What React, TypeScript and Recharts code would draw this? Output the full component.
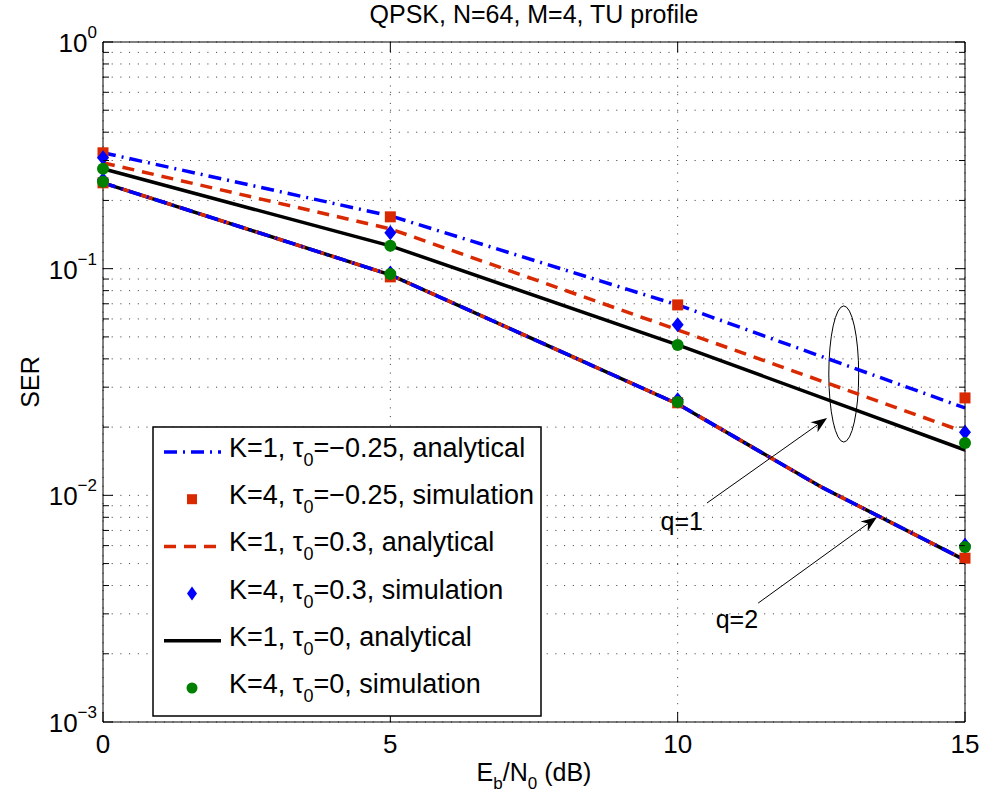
import React from "react";
import {
  CartesianGrid,
  ComposedChart,
  Line,
  ReferenceArea,
  ReferenceLine,
  Scatter,
  XAxis,
  YAxis,
} from "recharts";

// Eb/N0 grid (dB)
const snrDb = [0, 5, 10, 15];
const snrDbFine = [0, 5, 10, 12.5, 15];

// q = 1 curves
const anaTauNeg025 = [0.3245, 0.171, 0.0692, 0.0243];
const simTauNeg025 = [0.3245, 0.1693, 0.0692, 0.0269];
const anaTau03 = [0.2933, 0.1499, 0.0537, 0.019];
const simTau03 = [0.3084, 0.1439, 0.0565, 0.019];
const anaTau0 = [0.2758, 0.1261, 0.0461, 0.01585];
const simTau0 = [0.2758, 0.1261, 0.0461, 0.017];

// q = 2 curves (the three analytical curves coincide)
const anaQ2 = [0.2392, 0.0939, 0.0253, 0.01088, 0.00518];
const simTauNeg025Q2 = [0.2392, 0.092, 0.0256, 0.00528];
const simTau03Q2 = [0.2466, 0.0958, 0.0264, 0.00603];
const simTau0Q2 = [0.2416, 0.0948, 0.0258, 0.00591];

const xTicks = [0, 5, 10, 15];
const yTicks = [
  0.001, 0.002, 0.003, 0.004, 0.005, 0.006, 0.007, 0.008, 0.009,
  0.01, 0.02, 0.03, 0.04, 0.05, 0.06, 0.07, 0.08, 0.09,
  0.1, 0.2, 0.3, 0.4, 0.5, 0.6, 0.7, 0.8, 0.9, 1,
];

const legendK = ["1", "4", "1", "4", "1", "4"];
const legendTau = ["\u22120.25", "\u22120.25", "0.3", "0.3", "0", "0"];
const legendKind = ["analytical", "simulation", "analytical", "simulation", "analytical", "simulation"];

const FONT = "'Liberation Sans', Arial, Helvetica, sans-serif";
const BLUE = "#0000ff";
const RED = "#d92900";
const GREEN = "#008000";

const pts = (xs: number[], ys: number[]) => xs.map((x, i) => ({ x, y: ys[i] }));

const isDecade = (v: number) => {
  const e = Math.round(Math.log10(v));
  return Math.abs(v - Math.pow(10, e)) < 1e-9;
};

function LeftTick(props: any) {
  const { x, y, payload } = props;
  const v = payload.value;
  const major = isDecade(v);
  const e = Math.round(Math.log10(v));
  return (
    <g>
      <line x1={x} y1={y} x2={x + (major ? 10 : 6)} y2={y} stroke="#000" />
      {major && (
        <text x={x - 6} y={y + 10} textAnchor="end" fontSize={26} fontFamily={FONT} fill="#000">
          10
          <tspan dy={-14} fontSize={17}>
            {e === 0 ? "0" : "\u2212" + Math.abs(e)}
          </tspan>
        </text>
      )}
    </g>
  );
}

function RightTick(props: any) {
  const { x, y, payload } = props;
  const major = isDecade(payload.value);
  return <line x1={x} y1={y} x2={x - (major ? 10 : 6)} y2={y} stroke="#000" />;
}

function BottomTick(props: any) {
  const { x, y, payload } = props;
  return (
    <g>
      <line x1={x} y1={y} x2={x} y2={y - 10} stroke="#000" />
      <text x={x} y={y + 31} textAnchor="middle" fontSize={26} fontFamily={FONT} fill="#000">
        {payload.value}
      </text>
    </g>
  );
}

function TopTick(props: any) {
  const { x, y } = props;
  return <line x1={x} y1={y} x2={x} y2={y + 10} stroke="#000" />;
}

const squareShape = (size: number) => (p: any) => (
  <rect x={p.cx - size / 2} y={p.cy - size / 2} width={size} height={size} fill={RED} />
);
const diamondShape = (w: number, h: number) => (p: any) => (
  <polygon
    points={`${p.cx},${p.cy - h / 2} ${p.cx + w / 2},${p.cy} ${p.cx},${p.cy + h / 2} ${p.cx - w / 2},${p.cy}`}
    fill={BLUE}
  />
);
const circleShape = (r: number) => (p: any) => <circle cx={p.cx} cy={p.cy} r={r} fill={GREEN} />;

const arrowShape = (label: string, tx: number, ty: number) => (p: any) => {
  const { x1, y1, x2, y2 } = p;
  const ang = Math.atan2(y2 - y1, x2 - x1);
  const len = 16;
  const half = 6;
  const bx = x2 - len * Math.cos(ang);
  const by = y2 - len * Math.sin(ang);
  const nx = x2 - len * 0.7 * Math.cos(ang);
  const ny = y2 - len * 0.7 * Math.sin(ang);
  const px = -Math.sin(ang) * half;
  const py = Math.cos(ang) * half;
  return (
    <g>
      <line x1={x1} y1={y1} x2={nx} y2={ny} stroke="#000" strokeWidth={1} />
      <polygon points={`${x2},${y2} ${bx + px},${by + py} ${nx},${ny} ${bx - px},${by - py}`} fill="#000" />
      <text x={x1 + tx} y={y1 + ty} textAnchor="end" fontSize={25} fontFamily={FONT} fill="#000">
        {label}
      </text>
    </g>
  );
};

const ellipseShape = (p: any) => (
  <ellipse
    cx={p.x + p.width / 2}
    cy={p.y + p.height / 2}
    rx={p.width / 2}
    ry={p.height / 2}
    fill="none"
    stroke="#000"
    strokeWidth={1}
  />
);

function LegendSample({ i }: { i: number }) {
  const cy = 26 + 47.2 * i;
  const cx = 40;
  if (i === 0)
    return <line x1={12} y1={cy} x2={69} y2={cy} stroke={BLUE} strokeWidth={3.5} strokeDasharray="13 6 2 6" />;
  if (i === 1) return <rect x={cx - 5} y={cy - 5} width={10} height={10} fill={RED} />;
  if (i === 2)
    return <line x1={12} y1={cy} x2={69} y2={cy} stroke={RED} strokeWidth={3.5} strokeDasharray="12 8" />;
  if (i === 3)
    return <polygon points={`${cx},${cy - 7} ${cx + 5},${cy} ${cx},${cy + 7} ${cx - 5},${cy}`} fill={BLUE} />;
  if (i === 4) return <line x1={12} y1={cy} x2={69} y2={cy} stroke="#000" strokeWidth={3.5} />;
  return <circle cx={cx} cy={cy} r={5.5} fill={GREEN} />;
}

function ChartLegend() {
  return (
    <svg width={390} height={291} style={{ position: "absolute", left: 152, top: 426 }}>
      <rect x={1} y={1} width={388} height={289} fill="#fff" stroke="#000" strokeWidth={1.5} />
      {legendK.map((k, i) => (
        <g key={i}>
          <LegendSample i={i} />
          <text x={77} y={31 + 47.2 * i} fontSize={27} fontFamily={FONT} fill="#000">
            {`K=${k}, \u03c4`}
            <tspan dy={9} fontSize={18}>0</tspan>
            <tspan dy={-9}>{`=${legendTau[i]}, ${legendKind[i]}`}</tspan>
          </text>
        </g>
      ))}
    </svg>
  );
}

function Labels() {
  return (
    <svg width={984} height={801} style={{ position: "absolute", left: 0, top: 0, pointerEvents: "none" }}>
      <text x={534} y={23} textAnchor="middle" fontSize={25} fontFamily={FONT} fill="#000">
        QPSK, N=64, M=4, TU profile
      </text>
      <text x={534} y={781} textAnchor="middle" fontSize={25} fontFamily={FONT} fill="#000">
        E<tspan dy={8} fontSize={17}>b</tspan>
        <tspan dy={-8}>/N</tspan>
        <tspan dy={8} fontSize={17}>0</tspan>
        <tspan dy={-8}> (dB)</tspan>
      </text>
      <text
        x={39}
        y={382}
        transform="rotate(-90 39 382)"
        textAnchor="middle"
        fontSize={25}
        fontFamily={FONT}
        fill="#000"
      >
        SER
      </text>
    </svg>
  );
}

export default function App() {
  const lineCommon = {
    type: "linear" as const,
    dataKey: "y",
    dot: false,
    activeDot: false,
    isAnimationActive: false,
  };
  return (
    <div style={{ position: "absolute", left: 0, top: 0, width: 984, height: 801, background: "#fff" }}>
      <ComposedChart width={984} height={801} margin={{ top: 41, right: 18, bottom: 78, left: 102 }}>
        <CartesianGrid stroke="#333" strokeDasharray="1 7.7" strokeWidth={1} />
        <XAxis
          xAxisId={0}
          type="number"
          dataKey="x"
          domain={[0, 15]}
          ticks={xTicks}
          interval={0}
          height={1}
          tickSize={0}
          tickMargin={0}
          tickLine={false}
          tick={<BottomTick />}
          axisLine={{ stroke: "#000" }}
        />
        <XAxis
          xAxisId="top"
          orientation="top"
          type="number"
          dataKey="x"
          domain={[0, 15]}
          ticks={xTicks}
          interval={0}
          height={1}
          tickSize={0}
          tickMargin={0}
          tickLine={false}
          tick={<TopTick />}
          axisLine={{ stroke: "#000" }}
        />
        <YAxis
          yAxisId={0}
          type="number"
          dataKey="y"
          scale="log"
          domain={[0.001, 1]}
          ticks={yTicks}
          interval={0}
          width={1}
          tickSize={0}
          tickMargin={0}
          tickLine={false}
          tick={<LeftTick />}
          axisLine={{ stroke: "#000" }}
        />
        <YAxis
          yAxisId="right"
          orientation="right"
          type="number"
          dataKey="y"
          scale="log"
          domain={[0.001, 1]}
          ticks={yTicks}
          interval={0}
          width={1}
          tickSize={0}
          tickMargin={0}
          tickLine={false}
          tick={<RightTick />}
          axisLine={{ stroke: "#000" }}
        />

        <Line {...lineCommon} data={pts(snrDb, anaTau0)} stroke="#000" strokeWidth={3.5} />
        <Line {...lineCommon} data={pts(snrDb, anaTau03)} stroke={RED} strokeWidth={3.5} strokeDasharray="12 8" />
        <Line {...lineCommon} data={pts(snrDb, anaTauNeg025)} stroke={BLUE} strokeWidth={3.5} strokeDasharray="13 6 2 6" />

        <Line {...lineCommon} xAxisId="top" yAxisId="right" data={pts(snrDbFine, anaQ2)} stroke="#000" strokeWidth={3.5} />
        <Line {...lineCommon} data={pts(snrDbFine, anaQ2)} stroke={RED} strokeWidth={3.5} strokeDasharray="12 8" />
        <Line {...lineCommon} data={pts(snrDbFine, anaQ2)} stroke={BLUE} strokeWidth={3.5} strokeDasharray="13 6 2 6" />

        <Scatter data={pts(snrDb, simTauNeg025)} shape={squareShape(11)} isAnimationActive={false} />
        <Scatter data={pts(snrDb, simTauNeg025Q2)} shape={squareShape(11)} isAnimationActive={false} />
        <Scatter data={pts(snrDb, simTau03)} shape={diamondShape(12, 15)} isAnimationActive={false} />
        <Scatter data={pts(snrDb, simTau03Q2)} shape={diamondShape(12, 15)} isAnimationActive={false} />
        <Scatter data={pts(snrDb, simTau0)} shape={circleShape(6)} isAnimationActive={false} />
        <Scatter data={pts(snrDb, simTau0Q2)} shape={circleShape(6)} isAnimationActive={false} />

        <ReferenceArea x1={12.63} x2={13.15} y1={0.01718} y2={0.0685} shape={ellipseShape} />
        <ReferenceLine
          segment={[{ x: 10.51, y: 0.00925 }, { x: 12.6, y: 0.02194 }]}
          shape={arrowShape("q=1", -4, 27)}
        />
        <ReferenceLine
          segment={[{ x: 11.4, y: 0.003345 }, { x: 13.47, y: 0.00802 }]}
          shape={arrowShape("q=2", 0, 25)}
        />
      </ComposedChart>
      <Labels />
      <ChartLegend />
    </div>
  );
}
